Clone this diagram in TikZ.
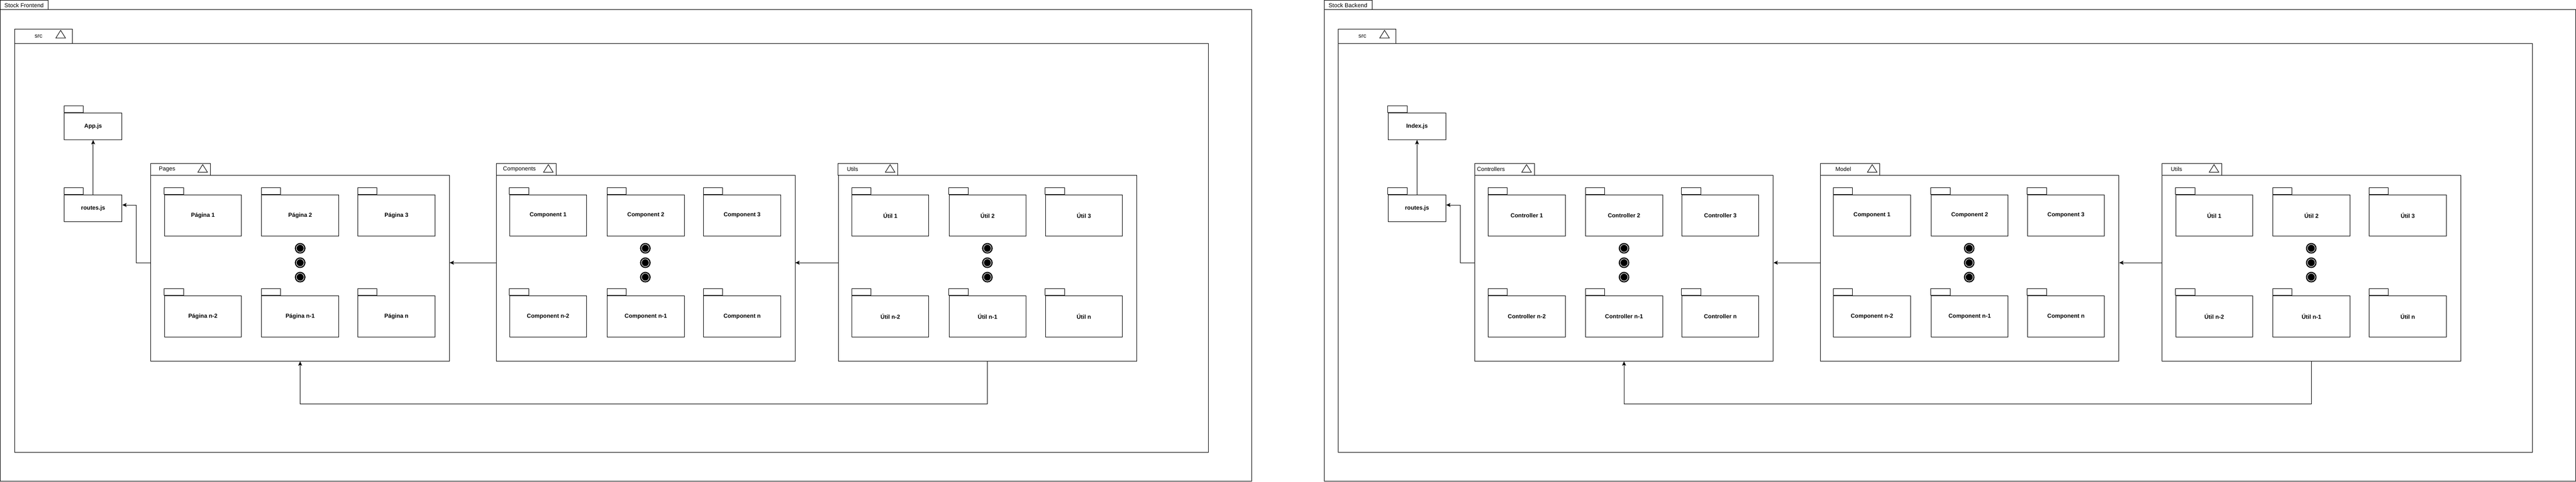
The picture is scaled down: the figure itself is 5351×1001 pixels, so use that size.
\documentclass[tikz,border=0pt]{standalone}
\usepackage{fontspec}
\setmainfont{Liberation Sans}
\usetikzlibrary{arrows.meta}
\tikzset{
  ln/.style={line width=1pt, draw=black},
  frm/.style={ln, fill=white},
  tablbl/.style={font=\fontsize{12}{14}\selectfont, inner sep=0pt, anchor=center},
  pkgbody/.style={ln, fill=white, inner sep=0pt, font=\fontsize{12}{14}\selectfont\bfseries, anchor=north west},
  itembox/.style={pkgbody, minimum width=160pt, minimum height=86pt},
  filebox/.style={pkgbody, minimum width=120pt, minimum height=56pt},
  ctbody/.style={ln, fill=white, inner sep=0pt, anchor=north west, minimum width=620pt, minimum height=386pt},
  dotmark/.style={circle, fill=black, draw=black, line width=1pt, minimum size=21pt, inner sep=0pt,
    path picture={\draw[white, line width=1pt] (path picture bounding box.center) circle (8pt);}},
  conn/.style={line width=1pt, -{Stealth[length=9pt, width=8pt, inset=2pt]}},
  tri/.style={line width=1pt, draw=black, fill=white},
}
% small package: name, x, top of body, label
\newcommand{\itempkg}[4]{%
  \draw[frm] (#2,{#3-14}) rectangle ({#2+40},#3);
  \node[itembox] (#1) at (#2,#3) {#4};}
% container tab: x-left
\newcommand{\cttab}[1]{%
  \draw[frm] (#1,340) rectangle ({#1+124},364);
  \draw[tri] ({#1+98},358) -- ({#1+108},342) -- ({#1+118},358) -- cycle;}
% whole system: prefix, title, top file, c1 label, c1 item, c2 label, c2 item
\newcommand{\drawsystem}[7]{%
  % outer frame
  \draw[frm] (0.5,0.5) rectangle (100,20);
  \node[tablbl] (#1title) at (50,11) {#2};
  \draw[frm] (0.5,20) rectangle (2600,1000);
  % src
  \draw[frm] (30,60) rectangle (150,90);
  \node[tablbl] (#1srclbl) at (80,76) {src};
  \draw[tri] (116,79) -- (126,63) -- (136,79) -- cycle;
  \draw[frm] (30,90) rectangle (2510,940);
  % files
  \draw[frm] (133,220) rectangle (173,234);
  \node[filebox] (#1app) at (133,234) {#3};
  \draw[frm] (133,390) rectangle (173,404);
  \node[filebox] (#1routes) at (133,404) {routes.js};
  % containers
  \cttab{313}
  \node[tablbl] (#1c1lbl) at (347,352) {#4};
  \node[ctbody] (#1pages) at (313,364) {};
  \cttab{1031}
  \node[tablbl] (#1c2lbl) at (1079,352) {#6};
  \node[ctbody] (#1comp) at (1031,364) {};
  \cttab{1741}
  \node[tablbl] (#1c3lbl) at (1771,352) {Utils};
  \node[ctbody] (#1utils) at (1741,364) {};
  % items
  \itempkg{#1pa}{341}{404}{#5 1}
  \itempkg{#1pb}{543}{404}{#5 2}
  \itempkg{#1pc}{743}{404}{#5 3}
  \itempkg{#1pd}{341}{614}{#5 n-2}
  \itempkg{#1pe}{543}{614}{#5 n-1}
  \itempkg{#1pf}{743}{614}{#5 n}
  \itempkg{#1ca}{1058}{404}{#7 1}
  \itempkg{#1cb}{1261}{404}{#7 2}
  \itempkg{#1cc}{1461}{404}{#7 3}
  \itempkg{#1cd}{1058}{614}{#7 n-2}
  \itempkg{#1ce}{1261}{614}{#7 n-1}
  \itempkg{#1cf}{1461}{614}{#7 n}
  \itempkg{#1ua}{1769}{404}{Útil 1}
  \itempkg{#1ub}{1971}{404}{Útil 2}
  \itempkg{#1uc}{2171}{404}{Útil 3}
  \itempkg{#1ud}{1769}{614}{Útil n-2}
  \itempkg{#1ue}{1971}{614}{Útil n-1}
  \itempkg{#1uf}{2171}{614}{Útil n}
  % dots
  \node[dotmark] (#1pdot1) at (623.5,516) {};
  \node[dotmark] (#1pdot2) at (623.5,546) {};
  \node[dotmark] (#1pdot3) at (623.5,576) {};
  \node[dotmark] (#1cdot1) at (1340.5,516) {};
  \node[dotmark] (#1cdot2) at (1340.5,546) {};
  \node[dotmark] (#1cdot3) at (1340.5,576) {};
  \node[dotmark] (#1udot1) at (2051,516) {};
  \node[dotmark] (#1udot2) at (2051,546) {};
  \node[dotmark] (#1udot3) at (2051,576) {};
  % connectors
  \coordinate (#1mid) at (0,546);
  \coordinate (#1low) at (0,840);
  \coordinate (#1bend) at (283,426);
  \draw[conn] (#1routes.north) -- (#1app.south);
  \draw[conn] (#1pages.west |- #1mid) -| (#1bend) -- (#1routes.east |- #1bend);
  \draw[conn] (#1comp.west |- #1mid) -- (#1pages.east |- #1mid);
  \draw[conn] (#1utils.west |- #1mid) -- (#1comp.east |- #1mid);
  \draw[conn] (#1utils.south) -- (#1utils.south |- #1low) -| (#1pages.south);
}
\begin{document}
\begin{tikzpicture}[x=1pt, y=-1pt]
  \useasboundingbox (0,0) rectangle (5351,1001);
  \fill[white] (0,0) rectangle (5351,1001);
  \begin{scope}
    \drawsystem{f}{Stock Frontend}{App.js}{Pages}{Página}{Components}{Component}
  \end{scope}
  \begin{scope}[shift={(2750,0)}]
    \drawsystem{b}{Stock Backend}{Index.js}{Controllers}{Controller}{Model}{Component}
  \end{scope}
\end{tikzpicture}
\end{document}
